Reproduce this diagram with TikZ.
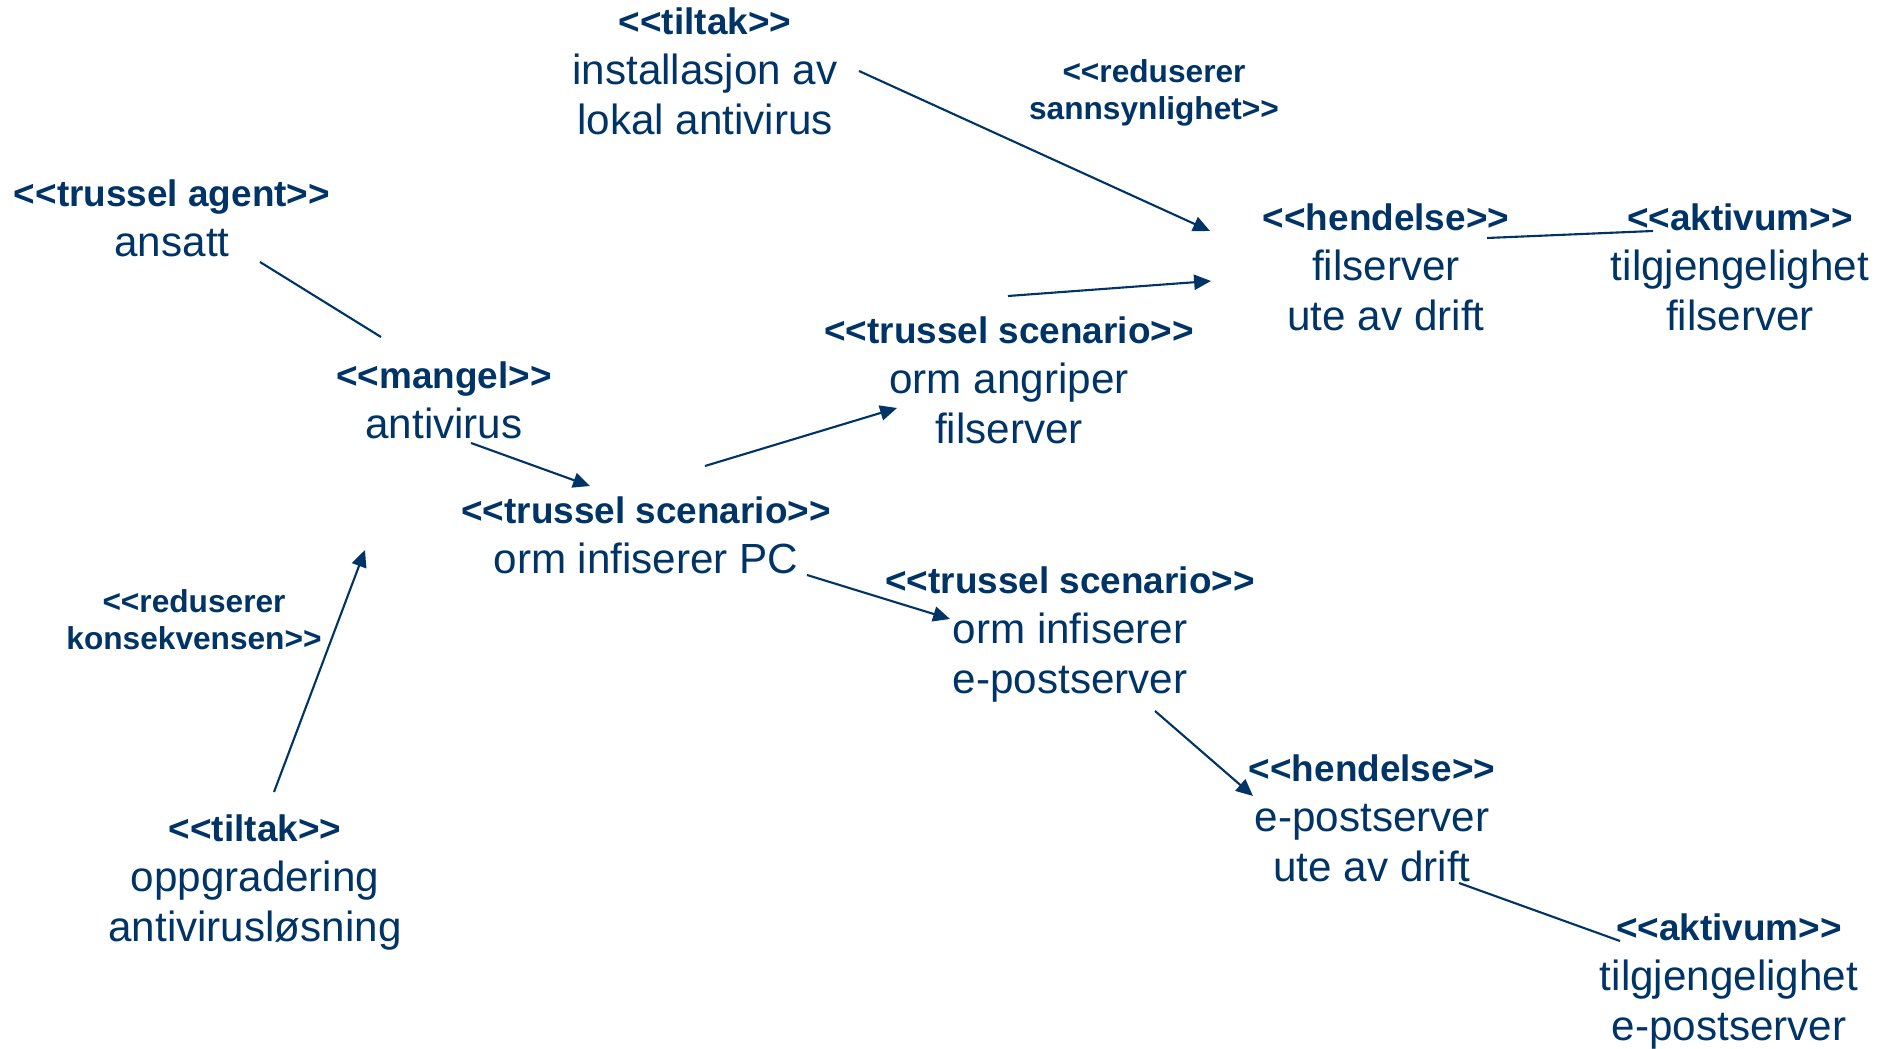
\documentclass[tikz,border=0pt]{standalone}
\usepackage{fontspec}
\setmainfont{Liberation Sans}
\usetikzlibrary{arrows.meta}
\definecolor{navy}{RGB}{0,51,102}
\newcommand{\stereo}[1]{{\bfseries\fontsize{10.5}{14.2}\selectfont <{}<#1>{}>}}

\begin{document}
\begin{tikzpicture}[x=0.01cm, y=-0.01cm,
	elem/.style={align=center, anchor=north, inner sep=0pt, text=navy, font=\fontsize{12}{14.2}\selectfont},
	rel/.style={align=center, anchor=north, inner sep=0pt, text=navy, font=\bfseries\fontsize{9}{10.5}\selectfont},
	link/.style={draw=navy, line width=0.6pt},
	flow/.style={link, -{Triangle[length=4.8pt,width=4.3pt]}}]
	\useasboundingbox (0,0) rectangle (1878,1049);
	\node[elem] (tiltakA) at (705,7) {\stereo{tiltak}\\installasjon av\\lokal antivirus};
	\node[rel] (redA) at (1154,59) {<{}<reduserer\\sannsynlighet>{}>};
	\node[elem] (agent) at (172,179) {\stereo{trussel agent}\\ansatt};
	\node[elem] (mangel) at (444,361) {\stereo{mangel}\\antivirus};
	\node[elem] (scenPC) at (646,496) {\stereo{trussel scenario}\\orm infiserer PC};
	\node[elem] (scenFil) at (1009,316) {\stereo{trussel scenario}\\orm angriper\\filserver};
	\node[elem] (hendFil) at (1386,203) {\stereo{hendelse}\\filserver\\ute av drift};
	\node[elem] (aktFil) at (1740,203) {\stereo{aktivum}\\tilgjengelighet\\filserver};
	\node[rel] (redK) at (194,589) {<{}<reduserer\\konsekvensen>{}>};
	\node[elem] (tiltakB) at (255,814) {\stereo{tiltak}\\oppgradering\\antivirusløsning};
	\node[elem] (scenPost) at (1070,566) {\stereo{trussel scenario}\\orm infiserer\\e-postserver};
	\node[elem] (hendPost) at (1372,754) {\stereo{hendelse}\\e-postserver\\ute av drift};
	\node[elem] (aktPost) at (1729,913) {\stereo{aktivum}\\tilgjengelighet\\e-postserver};
	\coordinate (konsekvens) at (365,550);

	\draw[flow] ([shift={(154,64)}]tiltakA.north) -- ([shift={(-176,28)}]hendFil.north);
	\draw[link] ([shift={(88,83)}]agent.north) -- ([shift={(-63,-24)}]mangel.north);
	\draw[flow] ([shift={(27,82)}]mangel.north) -- ([shift={(-56,-10)}]scenPC.north);
	\draw[flow] ([shift={(59,-30)}]scenPC.north) -- ([shift={(-112,92)}]scenFil.north);
	\draw[flow] ([shift={(-1,-20)}]scenFil.north) -- ([shift={(-175,78)}]hendFil.north);
	\draw[link] ([shift={(101,35)}]hendFil.north) -- ([shift={(-87,28)}]aktFil.north);
	\draw[flow] ([shift={(161,79)}]scenPC.north) -- ([shift={(-120,53)}]scenPost.north);
	\draw[flow] ([shift={(85,145)}]scenPost.north) -- ([shift={(-119,42)}]hendPost.north);
	\draw[link] ([shift={(87,129)}]hendPost.north) -- ([shift={(-109,28)}]aktPost.north);
	\draw[flow] ([shift={(19,-22)}]tiltakB.north) -- (konsekvens);
\end{tikzpicture}
\end{document}
